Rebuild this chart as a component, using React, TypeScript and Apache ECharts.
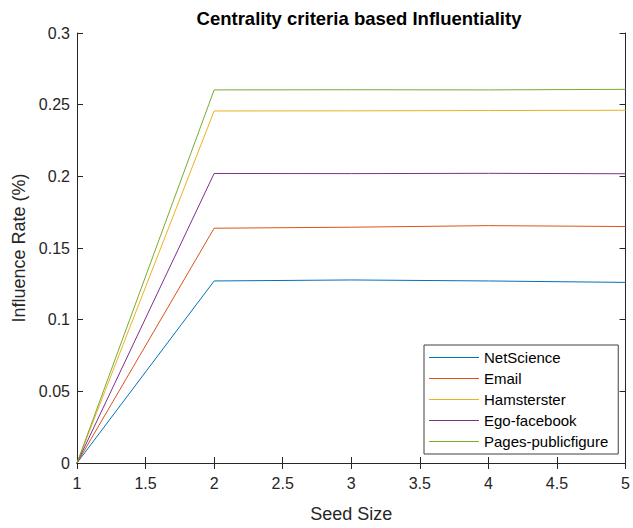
import React, { useEffect, useRef } from "react";
import * as echarts from "echarts";

const seedSizes = [1, 2, 3, 4, 5];
const seriesNames = ["NetScience", "Email", "Hamsterster", "Ego-facebook", "Pages-publicfigure"];
const netScience = [0, 0.127, 0.1277, 0.127, 0.126];
const email = [0, 0.1638, 0.1645, 0.1656, 0.165];
const hamsterster = [0, 0.2456, 0.2457, 0.2459, 0.2461];
const egoFacebook = [0, 0.202, 0.2019, 0.2021, 0.2018];
const pagesPublicfigure = [0, 0.2603, 0.2604, 0.2603, 0.2607];
const seriesValues = [netScience, email, hamsterster, egoFacebook, pagesPublicfigure];
const colors = ["#0072BD", "#D95319", "#EDB120", "#7E2F8E", "#77AC30"];

const FONT = "'Liberation Sans', Arial, Helvetica, sans-serif";
const AX = "#262626";

export default function App() {
  const ref = useRef<HTMLDivElement>(null);
  useEffect(() => {
    document.body.style.margin = "0";
    const chart = echarts.init(ref.current!, null, { renderer: "svg" });
    const baseX = {
      type: "value" as const,
      min: 1,
      max: 5,
      interval: 0.5,
      splitLine: { show: false },
      axisLine: { show: true, lineStyle: { color: AX, width: 1 } },
      axisTick: { show: true, inside: true, length: 6, lineStyle: { color: AX } },
    };
    const baseY = {
      type: "value" as const,
      min: 0,
      max: 0.3,
      interval: 0.05,
      splitLine: { show: false },
      axisLine: { show: true, lineStyle: { color: AX, width: 1 } },
      axisTick: { show: true, inside: true, length: 6, lineStyle: { color: AX } },
    };
    chart.setOption({
      animation: false,
      backgroundColor: "#ffffff",
      textStyle: { fontFamily: FONT },
      title: {
        text: "Centrality criteria based Influentiality",
        left: 354,
        textAlign: "center",
        top: 4,
        textStyle: { fontFamily: FONT, fontSize: 18.5, fontWeight: "bold", color: "#000" },
      },
      grid: { left: 77, right: 4, top: 33, bottom: 62, containLabel: false },
      legend: {
        orient: "vertical",
        left: 424,
        top: 345,
        padding: [5, 10, 5, 5],
        itemGap: 6,
        itemWidth: 50,
        itemHeight: 15,
        icon: "path://M0,7H50V8H0Z",
        backgroundColor: "#ffffff",
        borderColor: "#404040",
        borderWidth: 1,
        borderRadius: 0,
        textStyle: { fontFamily: FONT, fontSize: 15, color: "#000", lineHeight: 15 },
        data: seriesNames,
      },
      xAxis: [
        {
          ...baseX,
          position: "bottom",
          name: "Seed Size",
          nameLocation: "middle",
          nameGap: 42,
          nameTextStyle: { fontFamily: FONT, fontSize: 18, color: AX },
          axisLabel: { show: true, margin: 12, fontFamily: FONT, fontSize: 16, color: AX },
        },
        {
          ...baseX,
          position: "top",
          axisLabel: { show: false },
        },
      ],
      yAxis: [
        {
          ...baseY,
          position: "left",
          name: "Influence Rate (%)",
          nameLocation: "middle",
          nameGap: 49,
          nameTextStyle: { fontFamily: FONT, fontSize: 18, color: AX },
          axisLabel: { show: true, margin: 7, fontFamily: FONT, fontSize: 16, color: AX },
        },
        {
          ...baseY,
          position: "right",
          axisLabel: { show: false },
        },
      ],
      series: seriesNames.map((name, i) => ({
        name,
        type: "line",
        xAxisIndex: 0,
        yAxisIndex: 0,
        showSymbol: false,
        symbol: "none",
        color: colors[i],
        lineStyle: { width: 1, color: colors[i] },
        data: seedSizes.map((x, j) => [x, seriesValues[i][j]]),
      })),
    });
    return () => chart.dispose();
  }, []);
  return <div ref={ref} style={{ width: 633, height: 528 }} />;
}
